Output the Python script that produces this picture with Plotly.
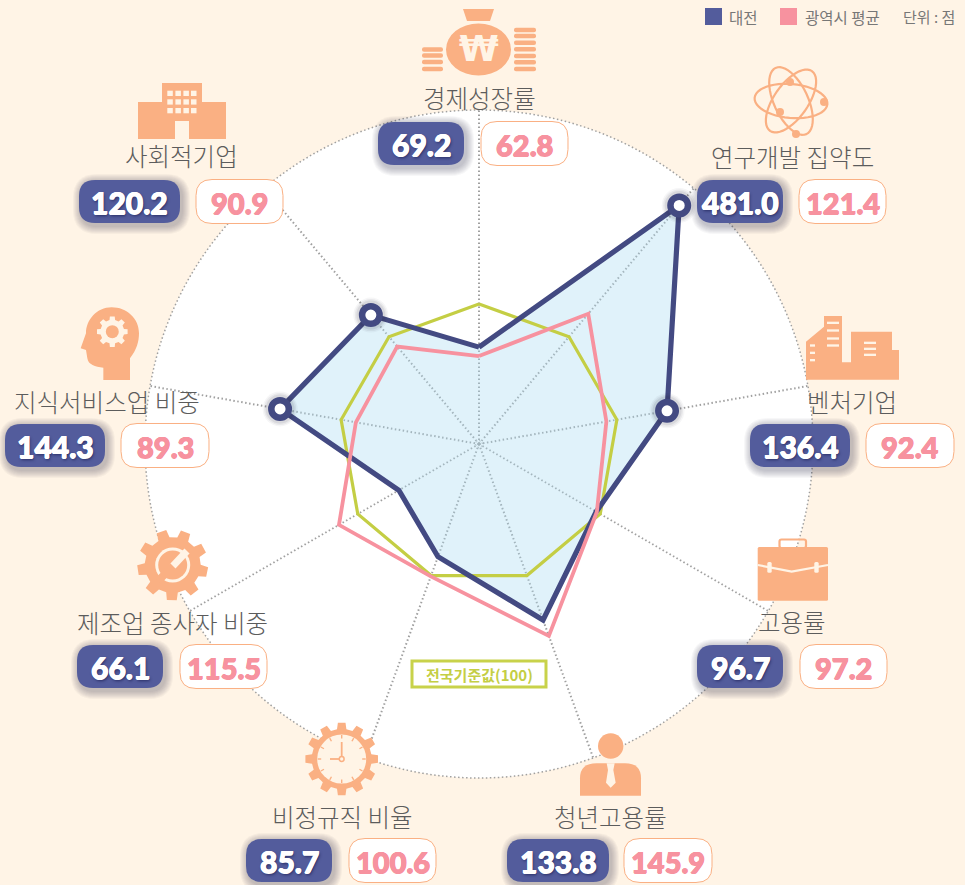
import math
import plotly.graph_objects as go

W, H = 965, 885
BG = "#FFF4E6"
ORANGE = "#FAB083"
NAVY = "#434A82"
BADGE_NAVY = "#535C9C"
PINK = "#F7929F"
GREEN = "#C4CE44"
TEXT = "#5C5C5C"
GRID = "#A0A0A0"
KR = "Noto Sans CJK KR"
NUM = "Lato"

categories = ["경제성장률", "연구개발 집약도", "벤처기업", "고용률", "청년고용률",
              "비정규직 비율", "제조업 종사자 비중", "지식서비스업 비중", "사회적기업"]
daejeon_labels = [69.2, 481.0, 136.4, 96.7, 133.8, 85.7, 66.1, 144.3, 120.2]
# The reference clips the out-of-scale 481.0 spike near the chart rim
daejeon_drawn = [69.2, 222.5, 136.4, 96.7, 133.8, 85.7, 66.1, 144.3, 120.2]
metro = [62.8, 121.4, 92.4, 97.2, 145.9, 100.6, 115.5, 89.3, 90.9]
national = [100, 100, 100, 100, 100, 100, 100, 100, 100]
marked = ["연구개발 집약도", "벤처기업", "지식서비스업 비중", "사회적기업"]
radial_max = 238.6

# label centre (x, y), navy badge x-range, white badge x-range, badge top, in page pixels
label_layout = {
    "경제성장률": (479, 98, 378, 464, 481, 568, 122),
    "연구개발 집약도": (792, 156, 697, 783, 799, 886, 180),
    "벤처기업": (852, 401, 750, 850, 866, 954, 424),
    "고용률": (792, 621, 697, 783, 800, 887, 645),
    "청년고용률": (610, 816, 507, 609, 624, 712, 839),
    "비정규직 비율": (342, 816, 246, 332, 349, 436, 839),
    "제조업 종사자 비중": (172, 622, 77, 163, 180, 267, 645),
    "지식서비스업 비중": (107, 401, 5, 105, 121, 209, 424),
    "사회적기업": (181, 155, 79, 180, 196, 283, 180),
}

shapes, annos = [], []


def X(px):
    return px / W


def Y(py):
    return 1 - py / H


def path_shape(cmds, fill=None, line=None, lw=0, opacity=1.0):
    """cmds: list of (letter, x, y, ...) in pixels."""
    parts = []
    for c in cmds:
        letter, vals = c[0], c[1:]
        nums = []
        for i, v in enumerate(vals):
            nums.append(f"{X(v) if i % 2 == 0 else Y(v):.6f}")
        parts.append(letter + " " + " ".join(nums))
    parts.append("Z")
    shapes.append(dict(type="path", xref="paper", yref="paper", path=" ".join(parts),
                       fillcolor=fill or "rgba(0,0,0,0)", opacity=opacity, layer="above",
                       line=dict(color=line or "rgba(0,0,0,0)", width=lw)))


def poly(pts, fill=None, line=None, lw=0):
    path_shape([("M" if i == 0 else "L", x, y) for i, (x, y) in enumerate(pts)], fill, line, lw)


def rect(x0, y0, x1, y1, fill):
    poly([(x0, y0), (x1, y0), (x1, y1), (x0, y1)], fill)


def rrect(x0, y0, x1, y1, r, fill=None, line=None, lw=0, opacity=1.0):
    path_shape([("M", x0 + r, y0), ("L", x1 - r, y0), ("Q", x1, y0, x1, y0 + r),
                ("L", x1, y1 - r), ("Q", x1, y1, x1 - r, y1), ("L", x0 + r, y1),
                ("Q", x0, y1, x0, y1 - r), ("L", x0, y0 + r), ("Q", x0, y0, x0 + r, y0)],
               fill, line, lw, opacity)


def ell(cx, cy, rx, ry, fill=None, line=None, lw=0, dash=None):
    ln = dict(color=line or "rgba(0,0,0,0)", width=lw)
    if dash:
        ln["dash"] = dash
    shapes.append(dict(type="circle", xref="paper", yref="paper", layer="above",
                       x0=X(cx - rx), x1=X(cx + rx), y0=Y(cy + ry), y1=Y(cy - ry),
                       fillcolor=fill or "rgba(0,0,0,0)", line=ln))


def seg(pts, color, lw):
    parts = [("M " if i == 0 else "L ") + f"{X(x):.6f} {Y(y):.6f}" for i, (x, y) in enumerate(pts)]
    shapes.append(dict(type="path", xref="paper", yref="paper", path=" ".join(parts),
                       layer="above", line=dict(color=color, width=lw)))


def text(px, py, s, size, color, font=KR, weight=None, shadow=None):
    f = dict(family=font, size=size, color=color)
    if weight:
        f["weight"] = weight
    if shadow:
        f["shadow"] = shadow
    annos.append(dict(x=X(px), y=Y(py), xref="paper", yref="paper", text=s, showarrow=False,
                      xanchor="center", yanchor="middle", font=f))


def gear(cx, cy, ro, ri, n, fill, phase=0.0):
    pts = []
    step = 2 * math.pi / n
    for k in range(n):
        a = phase + k * step
        for da, r in ((-0.30, ri), (-0.20, ro), (0.20, ro), (0.30, ri)):
            t = a + da * step
            pts.append((cx + r * math.cos(t), cy + r * math.sin(t)))
    poly(pts, fill)


def z(ox, oy, pts):
    return [(ox + x / 3, oy + y / 3) for x, y in pts]


cx, cy, R = 479, 444, 334

# dotted rim of the radar, kept under icons and badges
ell(cx, cy, R, R, None, GRID, 1.5, dash="1.5px,2.5px")

# ---------- icons ----------
# money bag
poly([(463, 9), (494, 9), (490, 21), (467, 21)], ORANGE)
ell(478.5, 49.5, 32.5, 26, ORANGE)
for yy in (49.5, 55.5, 62, 69):
    rrect(422, yy - 2.3, 443, yy + 2.3, 2, ORANGE)
for yy in (30, 36, 42.7, 49.3, 56, 62.3, 69):
    rrect(514, yy - 2.3, 536, yy + 2.3, 2, ORANGE)
text(479, 49, "₩", 36, BG, font="DejaVu Sans", weight=700)

# atom
for rot in (5, 65, 125):
    a = math.radians(rot)
    pts = []
    for k in range(48):
        t = 2 * math.pi * k / 48
        ex, ey = 36.5 * math.cos(t), 17 * math.sin(t)
        pts.append((791 + ex * math.cos(a) - ey * math.sin(a), 101 + ex * math.sin(a) + ey * math.cos(a)))
    poly(pts, None, ORANGE, 2.2)
for nx, ny in ((790, 82), (824, 102), (780, 112), (796, 134)):
    ell(nx, ny, 4, 4, ORANGE)

# social enterprise building
rect(162, 83, 202, 103, ORANGE)
rect(138, 102, 226, 139, ORANGE)
rect(175, 121, 189, 139, BG)
for wx in (167.3, 175.4, 183.4, 191.0):
    for wy in (90.7, 99.3, 108.0):
        rect(wx, wy, wx + 5.5, wy + 5.3, BG)

# head with gear
o = (0, 300)
c = lambda *v: tuple(o[i % 2] + n / 3 for i, n in enumerate(v))
path_shape([("M",) + c(310, 240), ("L",) + c(390, 240), ("L",) + c(390, 175),
            ("C",) + c(410, 150, 417, 125, 417, 100), ("C",) + c(417, 55, 380, 22, 335, 22),
            ("C",) + c(290, 22, 258, 60, 258, 100), ("L",) + c(242, 145), ("L",) + c(258, 150),
            ("L",) + c(262, 175), ("C",) + c(265, 195, 285, 200, 310, 203)], ORANGE)
gear(112.3, 331.7, 15.5, 12, 8, BG)
ell(112.3, 331.7, 6.5, 6.5, ORANGE)

# wrench gear
gear(172.7, 565, 35.5, 28, 9, ORANGE, phase=0.2)
ell(172.7, 565, 17.5, 17.5, BG)
ell(172.7, 565, 14.5, 14.5, ORANGE)
seg([(172, 567), (187, 551)], BG, 7)
seg([(173, 566), (158, 581)], ORANGE, 8)

# clock gear
gear(341.7, 759, 36.5, 30, 12, ORANGE, phase=-math.pi / 2)
ell(341.7, 759, 24.5, 24.5, BG)
for k in range(12):
    a = k * math.pi / 6
    seg([(341.7 + 24 * math.cos(a), 759 + 24 * math.sin(a)),
         (341.7 + 20.5 * math.cos(a), 759 + 20.5 * math.sin(a))], ORANGE, 1.4)
seg([(341.7, 759), (341.7, 742)], ORANGE, 1.8)
seg([(341.7, 759), (330, 759)], ORANGE, 1.8)
ell(341.7, 759, 2.4, 2.4, BG, ORANGE, 1.5)

# person
ell(610.7, 746, 12.7, 12.7, ORANGE)
o = (500, 720)
path_shape([("M",) + c(240, 227), ("L",) + c(240, 175), ("Q",) + c(240, 130, 290, 130),
            ("L",) + c(375, 130), ("Q",) + c(423, 130, 423, 175), ("L",) + c(423, 227)], ORANGE)
poly(z(500, 720, [(320, 130), (344, 130), (340, 150), (347, 188), (332, 203), (318, 188), (324, 150)]), BG)

# briefcase
rrect(779.5, 539.5, 806, 548, 2, None, ORANGE, 2.2)
rrect(757.7, 547, 828, 600.7, 1.5, ORANGE)
seg(z(690, 520, [(203, 135), (305, 155), (414, 135)]), BG, 2.2)
rrect(767.3, 562, 771.7, 572.7, 1.5, BG)
rrect(814.3, 562, 818.7, 572.7, 1.5, BG)

# offices
poly(z(745, 305, [(183, 224), (183, 110), (237, 65), (237, 33), (291, 33), (291, 172), (318, 172),
                  (318, 80), (441, 80), (441, 135), (462, 135), (462, 224)]), ORANGE)
for x0, x1, ys in ((246, 282, (50, 73, 97, 118)), (195, 210, (118, 140, 162)), (357, 393, (110, 128, 146))):
    for yy in ys:
        rect(745 + x0 / 3, 305 + yy / 3, 745 + x1 / 3, 305 + (yy + 7) / 3, BG)

# ---------- category labels and value badges ----------
WHITE_BOLD = "0.5px 0 0 #FFFFFF, -0.5px 0 0 #FFFFFF, 0 0.5px 0 #FFFFFF, 1px 2px 3px #2A2F66"
PINK_BOLD = f"0.5px 0 0 {PINK}, -0.5px 0 0 {PINK}, 0 0.5px 0 {PINK}, 0 -0.5px 0 {PINK}"
for name, dj, mt in zip(categories, daejeon_labels, metro):
    lx, ly, nx0, nx1, wx0, wx1, top = label_layout[name]
    bottom = top + 43
    text(lx, ly, name, 24.5, TEXT, weight=300)
    for i in range(8):
        grow = 8 - i
        rrect(nx0 + 2 - grow, top + 2 - grow, nx1 + 2 + grow, bottom + 3 + grow, 16 + grow,
              "#1c1c2c", opacity=0.035)
    rrect(nx0, top, nx1, bottom, 16, BADGE_NAVY)
    rrect(wx0, top - 0.5, wx1, bottom + 0.5, 16, "#FFFFFF", ORANGE, 1)
    text((nx0 + nx1) / 2, (top + bottom) / 2 + 0.5, f"{dj:.1f}", 30, "#FFFFFF", font=NUM, weight=900,
         shadow=WHITE_BOLD)
    text((wx0 + wx1) / 2, (top + bottom) / 2 + 0.5, f"{mt:.1f}", 29, PINK, font=NUM, weight=900,
         shadow=PINK_BOLD)

# ---------- legends ----------
rect(705, 8, 722, 25, BADGE_NAVY)
rect(780, 8, 797, 25, PINK)
text(743.5, 16.5, "대전", 15.5, "#777777")
text(842.5, 16.5, "광역시 평균", 15.5, "#777777")
text(929, 16.5, "단위 : 점", 15, "#777777")
poly([(412, 661), (546, 661), (546, 687), (412, 687)], "#FFFFFF", "#C8D24A", 3)
text(479, 674, "전국기준값(100)", 15, GREEN, weight=700)


# ---------- radar ----------
def closed(v):
    return list(v) + [v[0]]


theta = closed(categories)
fig = go.Figure()
fig.add_trace(go.Scatterpolar(r=closed(daejeon_drawn), theta=theta, mode="none", fill="toself",
                              fillcolor="rgba(170,220,242,0.36)", showlegend=False, hoverinfo="skip"))
fig.add_trace(go.Scatterpolar(r=closed(national), theta=theta, mode="lines",
                              line=dict(color=GREEN, width=3.2), showlegend=False, name="전국"))
fig.add_trace(go.Scatterpolar(r=closed(daejeon_drawn), theta=theta, mode="lines",
                              line=dict(color=NAVY, width=5.2), showlegend=False, name="대전"))
fig.add_trace(go.Scatterpolar(r=closed(metro), theta=theta, mode="lines",
                              line=dict(color=PINK, width=3.8), showlegend=False, name="광역시 평균"))
mark_r = [v for n, v in zip(categories, daejeon_drawn) if n in marked]
for size, alpha in ((35, 0.04), (32, 0.06), (29, 0.08)):
    fig.add_trace(go.Scatterpolar(r=mark_r, theta=marked, mode="markers", showlegend=False,
                                  marker=dict(size=size, color=f"rgba(30,30,50,{alpha})"), hoverinfo="skip"))
fig.add_trace(go.Scatterpolar(r=mark_r, theta=marked, mode="markers", showlegend=False,
                              marker=dict(size=17.5, color="#FFFFFF", line=dict(color=NAVY, width=6.5))))

fig.update_layout(
    width=W, height=H, margin=dict(l=0, r=0, t=0, b=0), paper_bgcolor=BG, autosize=False,
    polar=dict(
        domain=dict(x=[X(cx - R), X(cx + R)], y=[Y(cy + R), Y(cy - R)]),
        bgcolor="#FFFFFF",
        radialaxis=dict(range=[0, radial_max], tickvals=[2.4], showticklabels=False,
                        ticks="", showline=False, gridcolor=GRID, griddash="1.5px,2px", gridwidth=1),
        angularaxis=dict(direction="clockwise", rotation=90, type="category", categoryorder="array",
                         categoryarray=categories, showticklabels=False, ticks="", showline=False,
                         gridcolor=GRID, griddash="1.5px,2.5px", gridwidth=1.5),
    ),
    shapes=shapes, annotations=annos,
)
fig.write_html("out.html", config=dict(displayModeBar=False),
               post_script=f"document.body.style.margin='0';document.body.style.background='{BG}';")
